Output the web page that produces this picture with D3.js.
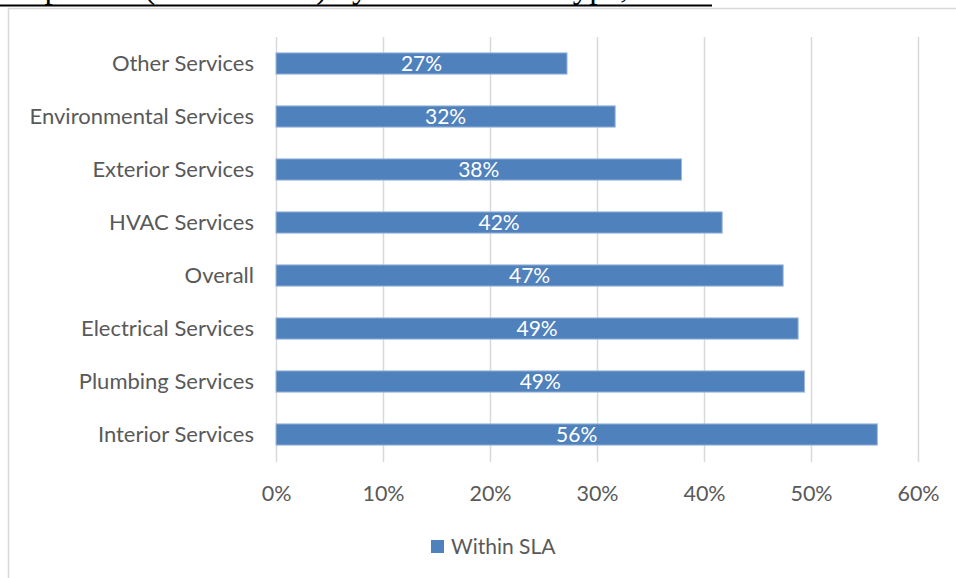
<!DOCTYPE html>
<html>
<head>
<meta charset="utf-8">
<script src="https://cdn.jsdelivr.net/npm/d3@7"></script>
<style>
  html, body { margin: 0; padding: 0; background: #ffffff; }
  svg { display: block; }
</style>
</head>
<body>
<svg id="chart" width="956" height="578"></svg>
<script>
const titleText = "Completion (Within SLA) by Maintenance Type, FY22";
const categories = ["Other Services", "Environmental Services", "Exterior Services", "HVAC Services", "Overall", "Electrical Services", "Plumbing Services", "Interior Services"];
const withinSLA = [0.272, 0.317, 0.379, 0.417, 0.474, 0.488, 0.494, 0.562];
const dataLabels = ["27%", "32%", "38%", "42%", "47%", "49%", "49%", "56%"];
const tickValues = [0, 0.1, 0.2, 0.3, 0.4, 0.5, 0.6];
const seriesName = "Within SLA";

const svg = d3.select("#chart");
const font = "Lato, 'Open Sans', sans-serif";
const textColor = "#595959";
const barColor = "#4f81bd";

// Cut-off title above the chart
svg.append("text")
  .attr("x", 712).attr("y", -2)
  .attr("text-anchor", "end")
  .attr("font-family", "'Liberation Serif', 'Times New Roman', serif")
  .attr("font-size", 33)
  .attr("fill", "#000")
  .text(titleText);
svg.append("line")
  .attr("x1", 0).attr("x2", 712).attr("y1", 5.5).attr("y2", 5.5)
  .attr("stroke", "#000").attr("stroke-width", 2);

// Chart frame (left & top edges visible)
svg.append("path")
  .attr("d", "M8.5,578 L8.5,8.5 L956,8.5")
  .attr("fill", "none").attr("stroke", "#d9d9d9").attr("stroke-width", 1.5);

const x = d3.scaleLinear().domain([0, 0.6]).range([276, 918]);
const y = d3.scaleBand().domain(categories).range([37, 461]).paddingInner(0.6).paddingOuter(0.3);

// Gridlines
svg.append("g").selectAll("line").data(tickValues).join("line")
  .attr("x1", d => Math.round(x(d)) + 0.5).attr("x2", d => Math.round(x(d)) + 0.5)
  .attr("y1", 37).attr("y2", 462)
  .attr("stroke", "#d9d9d9").attr("stroke-width", 1.5);

// X axis tick labels
const xAxis = d3.axisBottom(x).tickValues(tickValues).tickFormat(d3.format(".0%")).tickSize(0).tickPadding(0);
const gx = svg.append("g").attr("transform", "translate(0,482)").call(xAxis);
gx.select(".domain").remove();
gx.selectAll("text").attr("font-family", font).attr("font-size", 21.5).attr("fill", textColor).attr("dy", "0.9em");

// Y axis labels
const yAxis = d3.axisLeft(y).tickSize(0).tickPadding(0);
const gy = svg.append("g").attr("transform", "translate(254,0)").call(yAxis);
gy.select(".domain").remove();
gy.selectAll("text").attr("font-family", font).attr("font-size", 22).attr("fill", textColor).attr("dy", "0.36em");

// Bars
const rows = categories.map((c, i) => ({ c, v: withinSLA[i], l: dataLabels[i] }));
svg.append("g").selectAll("rect").data(rows).join("rect")
  .attr("x", x(0)).attr("y", d => y(d.c))
  .attr("width", d => x(d.v) - x(0)).attr("height", y.bandwidth())
  .attr("fill", barColor).attr("stroke", "#9fb9dd").attr("stroke-width", 1);

// Data labels
svg.append("g").selectAll("text").data(rows).join("text")
  .attr("x", d => (x(0) + x(d.v)) / 2)
  .attr("y", d => y(d.c) + y.bandwidth() / 2)
  .attr("dy", "0.38em")
  .attr("text-anchor", "middle")
  .attr("font-family", font).attr("font-size", 21).attr("fill", "#ffffff")
  .text(d => d.l);

// Legend
const lg = svg.append("g");
lg.append("rect").attr("x", 431).attr("y", 540).attr("width", 13).attr("height", 13).attr("fill", barColor);
lg.append("text").attr("x", 451).attr("y", 554)
  .attr("font-family", font).attr("font-size", 21).attr("fill", textColor).text(seriesName);
</script>
</body>
</html>
